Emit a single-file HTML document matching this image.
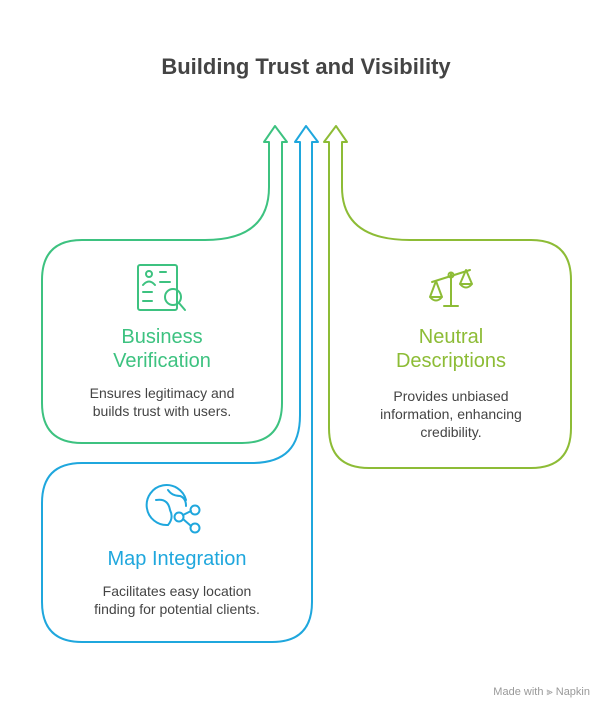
<!DOCTYPE html>
<html><head><meta charset="utf-8"><style>
body{margin:0;width:613px;height:720px;background:#fff;overflow:hidden;font-family:"Liberation Sans",sans-serif}
svg{position:absolute;left:0;top:0}
</style></head><body>
<svg width="613" height="720" viewBox="0 0 613 720" fill="none" stroke-width="2" stroke-linejoin="round" stroke-linecap="round">
<text x="306" y="74" text-anchor="middle" font-size="22" font-weight="bold" fill="#444" stroke="none">Building Trust and Visibility</text>
<path d="M269,142 L264,142 L275,126 L287,142 L282,142 L282,403 Q282,443 242,443 L82,443 Q42,443 42,403 L42,280 Q42,240 82,240 L205,240 C248,240 269,222 269,187 Z" stroke="#3dc280"/>
<path d="M300,142 L295,142 L306,126 L318,142 L312,142 L312,602 Q312,642 272,642 L82,642 Q42,642 42,602 L42,503 Q42,463 82,463 L252,463 C285,463 300,447 300,415 Z" stroke="#1fa7dd"/>
<path d="M342,142 L347,142 L336,126 L324,142 L329,142 L329,428 Q329,468 369,468 L531,468 Q571,468 571,428 L571,280 Q571,240 531,240 L410,240 C364,240 342,222 342,187 Z" stroke="#8dbc36"/>
<g stroke="#3dc280">
<rect x="138" y="265" width="39" height="45" rx="2"/>
<circle cx="149" cy="274" r="3"/>
<path d="M143,285 Q149,278 155,285 M160,272 H166 M160,282 H170 M143,292 H152 M143,301 H152"/>
<circle cx="173" cy="297" r="8"/>
<path d="M179,303 L185,310"/>
</g>
<g stroke="#8dbc36">
<path d="M432,282 L470,270 M451,274 V305 M444,306 H458"/>
<circle cx="451" cy="275" r="2.5"/>
<path d="M436,281 L430,297 H442 Z M430,297 Q436,304 442,297 M466,270 L460,284 H472 Z M460,284 Q466,291 472,284"/>
</g>
<g stroke="#1fa7dd">
<path d="M186,500 A20,20 0 1 0 168,525"/>
<path d="M156,500 Q168,498 170,510 Q174,518 168,525 M168,490 Q172,496 180,496 Q186,498 186,506"/>
<circle cx="179" cy="517" r="4.5"/>
<circle cx="195" cy="510" r="4.5"/>
<circle cx="195" cy="528" r="4.5"/>
<path d="M183,515 L191,511 M183,519 L191,526"/>
</g>
<g stroke="none" text-anchor="middle">
<text x="162" y="343" font-size="20" fill="#3dc280">Business</text>
<text x="162" y="367" font-size="20" fill="#3dc280">Verification</text>
<text x="162" y="398" font-size="14" fill="#444">Ensures legitimacy and</text>
<text x="162" y="416" font-size="14" fill="#444">builds trust with users.</text>
<text x="451" y="343" font-size="20" fill="#8dbc36">Neutral</text>
<text x="451" y="367" font-size="20" fill="#8dbc36">Descriptions</text>
<text x="451" y="401" font-size="14" fill="#444">Provides unbiased</text>
<text x="451" y="419" font-size="14" fill="#444">information, enhancing</text>
<text x="451" y="437" font-size="14" fill="#444">credibility.</text>
<text x="177" y="565" font-size="20" fill="#1fa7dd">Map Integration</text>
<text x="177" y="596" font-size="14" fill="#444">Facilitates easy location</text>
<text x="177" y="614" font-size="14" fill="#444">finding for potential clients.</text>
</g>
<text x="590" y="695" text-anchor="end" font-size="11" fill="#999" stroke="none">Made with ⫸ Napkin</text>
</svg>
</body></html>
